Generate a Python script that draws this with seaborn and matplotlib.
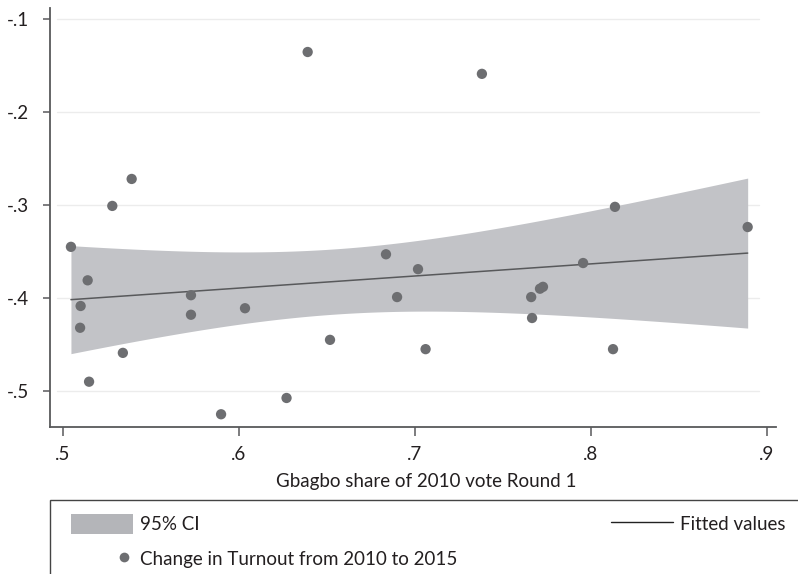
import numpy as np
import matplotlib
matplotlib.use('Agg')
import matplotlib.pyplot as plt
import seaborn as sns
from matplotlib.patches import Patch, Rectangle
from matplotlib.lines import Line2D
from matplotlib.legend_handler import HandlerLine2D

# ==============================================================
#  DONNÉES
# ==============================================================
GBAGBO_SHARE = [0.5045, 0.5097, 0.5100, 0.5140, 0.5148, 0.5280, 0.5340,
                0.5390, 0.5727, 0.5727, 0.5898, 0.6034, 0.6270, 0.6390,
                0.6517, 0.6835, 0.6898, 0.7017, 0.7060, 0.7380, 0.7660,
                0.7665, 0.7710, 0.7727, 0.7955, 0.8125, 0.8136, 0.8890]
TURNOUT_CHANGE = [-0.345, -0.432, -0.4086, -0.381, -0.490, -0.301, -0.459,
                  -0.272, -0.397, -0.418, -0.525, -0.411, -0.5075, -0.1355,
                  -0.445, -0.353, -0.399, -0.369, -0.455, -0.159, -0.399,
                  -0.4215, -0.390, -0.388, -0.3624, -0.455, -0.302, -0.3237]

X_TICKS = [0.5, 0.6, 0.7, 0.8, 0.9]
X_TICK_LABELS = ['.5', '.6', '.7', '.8', '.9']
Y_TICKS = [-0.5, -0.4, -0.3, -0.2, -0.1]
Y_TICK_LABELS = ['-.5', '-.4', '-.3', '-.2', '-.1']
X_LABEL = 'Gbagbo share of 2010 vote Round 1'
LABEL_CI = '95% CI'
LABEL_POINTS = 'Change in Turnout from 2010 to 2015'
LABEL_FIT = 'Fitted values'

T_CRIT = 2.056  # t(0.975, n-2) pour n = 28

# Couleurs
COL_CI = '#c2c3c7'
COL_CI_LEG = '#b4b5b9'
COL_PTS = '#6d6e71'
COL_LINE = '#58595b'
COL_AXIS = '#58595b'
COL_GRID = '#ececec'
COL_TEXT = '#231f20'
FS = 13.5


# ==============================================================
#  AJUSTEMENT LINÉAIRE + IC 95 %
# ==============================================================
def ajustement_lineaire(x, y, n_grid=120):
    x = np.asarray(x)
    y = np.asarray(y)
    n = len(x)
    b, a = np.polyfit(x, y, 1)
    resid = y - (a + b * x)
    s = np.sqrt(np.sum(resid ** 2) / (n - 2))
    grid = np.linspace(x.min(), x.max(), n_grid)
    fit = a + b * grid
    se = s * np.sqrt(1 / n + (grid - x.mean()) ** 2 / np.sum((x - x.mean()) ** 2))
    return grid, fit, fit - T_CRIT * se, fit + T_CRIT * se


class HandlerPointDroite(HandlerLine2D):
    """Point de légende décalé vers la droite (style Stata)."""
    def get_xdata(self, legend, xdescent, ydescent, width, height, fontsize):
        xdata = np.array([0.72 * width - xdescent, width - xdescent])
        return xdata, xdata


# ==============================================================
#  FIGURE
# ==============================================================
sns.set_theme(style='white')
plt.rcParams['font.family'] = ['Lato', 'DejaVu Sans']
plt.rcParams['text.color'] = COL_TEXT

fig = plt.figure(figsize=(7.98, 5.74), dpi=100)
ax = fig.add_axes([50 / 798, 147 / 574, 726 / 798, 419 / 574])

grid, fit, ci_lo, ci_hi = ajustement_lineaire(GBAGBO_SHARE, TURNOUT_CHANGE)

for yt in Y_TICKS:
    ax.axhline(yt, xmin=7 / 726, xmax=709 / 726, color=COL_GRID, lw=1, zorder=0)

ax.fill_between(grid, ci_lo, ci_hi, color=COL_CI, lw=0, zorder=1)
sns.scatterplot(x=GBAGBO_SHARE, y=TURNOUT_CHANGE, color=COL_PTS, s=55,
                edgecolor='none', ax=ax, zorder=3)
sns.lineplot(x=grid, y=fit, color=COL_LINE, lw=1.1, ax=ax, zorder=2)

ax.set_xlim(0.4926, 0.9051)
ax.set_ylim(-0.5387, -0.0882)
ax.set_xticks(X_TICKS, X_TICK_LABELS)
ax.set_yticks(Y_TICKS, Y_TICK_LABELS)
ax.set_xlabel(X_LABEL, fontsize=FS, color=COL_TEXT)
ax.xaxis.set_label_coords(0.5186, -0.110)
ax.set_ylabel('')

for sp in ['top', 'right']:
    ax.spines[sp].set_visible(False)
for sp in ['left', 'bottom']:
    ax.spines[sp].set_color(COL_AXIS)
    ax.spines[sp].set_linewidth(1.3)

ax.tick_params(axis='both', bottom=True, left=True, color=COL_AXIS, width=1.1,
               labelcolor=COL_TEXT, labelsize=FS)
ax.tick_params(axis='x', length=6.5, pad=7)
ax.tick_params(axis='y', length=5, pad=10)

# Cadre de la légende (déborde de l'image comme sur l'original)
fig.patches.append(Rectangle((50 / 798, -0.1), 1.0, 74 / 574 + 0.1,
                             transform=fig.transFigure, fill=False,
                             edgecolor='#444444', lw=1.0))

handles = [
    Patch(facecolor=COL_CI_LEG, edgecolor='none', label=LABEL_CI),
    Line2D([], [], marker='o', color=COL_PTS, linestyle='none', markersize=7,
           markeredgewidth=0, label=LABEL_POINTS),
    Line2D([], [], color='#222222', lw=1, label=LABEL_FIT),
]
leg = fig.legend(handles=handles, ncol=2, loc='upper left', mode='expand',
                 bbox_to_anchor=(71 / 798, 0.0, 715 / 798, 60 / 574),
                 borderaxespad=0, frameon=False, borderpad=0,
                 fontsize=FS, handlelength=3.3, handleheight=1.23,
                 handletextpad=0.4, labelspacing=0.8,
                 handler_map={handles[1]: HandlerPointDroite(numpoints=1)})

fig.savefig('out.png', dpi=100)
